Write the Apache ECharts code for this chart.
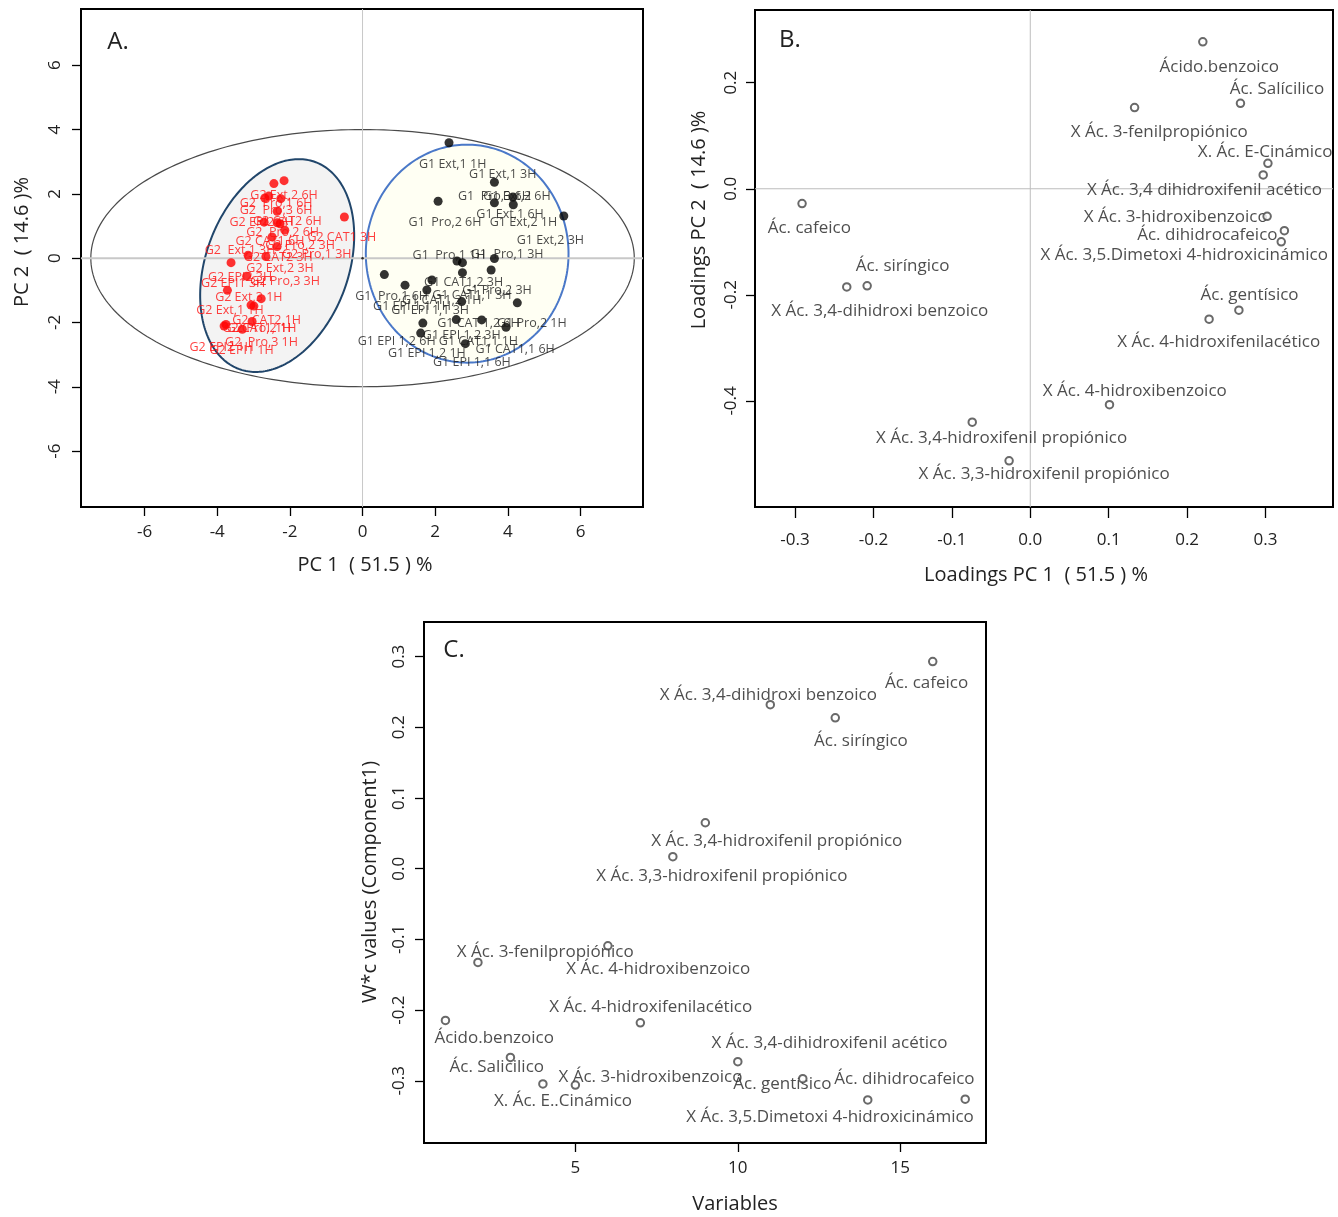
<!DOCTYPE html>
<html>
<head>
<meta charset="utf-8">
<script src="https://cdn.jsdelivr.net/npm/echarts@6/dist/echarts.min.js"></script>
<style>
  html, body { margin: 0; padding: 0; background: #fff; }
  #chart { width: 1338px; height: 1217px; }
</style>
</head>
<body>
<div id="chart"></div>
<script>
// ---------- A. PCA scores ----------
const g1Scores = [
  [2.38, 3.59], [3.63, 2.36], [2.08, 1.77], [3.63, 1.72], [4.14, 1.90], [4.15, 1.66],
  [5.54, 1.31], [2.60, -0.09], [2.75, -0.14], [3.63, -0.01], [2.75, -0.45], [3.54, -0.37],
  [0.60, -0.51], [1.17, -0.84], [1.91, -0.68], [1.77, -0.99], [2.73, -1.35], [4.26, -1.39],
  [1.66, -2.02], [2.58, -1.91], [3.28, -1.92], [3.95, -2.15], [1.60, -2.33], [2.83, -2.66]
];
const g2Scores = [
  [-2.44, 2.32], [-2.16, 2.41], [-2.69, 1.87], [-2.58, 1.93], [-2.25, 1.85], [-2.35, 1.46],
  [-2.71, 1.12], [-2.35, 1.10], [-2.27, 1.07], [-2.14, 0.87], [-2.49, 0.66], [-2.35, 0.36],
  [-3.15, 0.09], [-2.66, 0.05], [-0.50, 1.28], [-3.62, -0.14], [-3.19, -0.56], [-3.72, -1.00],
  [-2.79, -1.26], [-3.07, -1.46], [-2.99, -1.49], [-3.76, -2.06], [-3.81, -2.11], [-3.04, -1.97],
  [-3.31, -2.21]
];
const g1ScoreLabels = [
  [2.48, 2.91, 'G1 Ext,1 1H'], [3.86, 2.60, 'G1 Ext,1 3H'], [3.63, 1.93, 'G1  Pro,3 6H'],
  [4.25, 1.93, 'G1 Ext,2 6H'], [4.06, 1.36, 'G1 Ext,1 6H'], [2.27, 1.10, 'G1  Pro,2 6H'],
  [4.43, 1.10, 'G1 Ext,2 1H'], [5.17, 0.55, 'G1 Ext,2 3H'], [2.38, 0.09, 'G1  Pro,1 1H'],
  [3.98, 0.12, 'G1  Pro,1 3H'], [2.78, -0.76, 'G1 CAT1,2 3H'], [3.70, -1.00, 'G1 Pro,2 3H'],
  [0.80, -1.20, 'G1  Pro,1 6H'], [3.01, -1.15, 'G1 CAT1,1 3H'], [2.18, -1.30, 'G1 CAT1,2 1H'],
  [1.36, -1.49, 'G1 EPI 1,1 1H'], [1.86, -1.64, 'G1 EPI 1,1 3H'], [3.19, -2.03, 'G1 CAT 1,2 6H'],
  [4.66, -2.03, 'G1 Pro,2 1H'], [2.73, -2.39, 'G1 EPI 1,2 3H'], [0.94, -2.59, 'G1 EPI 1,2 6H'],
  [3.19, -2.59, 'G1 CAT1,1 1H'], [4.20, -2.83, 'G1 CAT1,1 6H'], [1.77, -2.97, 'G1 EPI 1,2 1H'],
  [3.01, -3.25, 'G1 EPI 1,1 6H']
];
const g2ScoreLabels = [
  [-2.16, 1.95, 'G2 Ext,2 6H'], [-2.38, 1.69, 'G2  Pro,1 6H'], [-2.38, 1.48, 'G2  Pro,3 6H'],
  [-2.78, 1.12, 'G2 EPI2 6H'], [-2.07, 1.15, 'G2 CAT2 6H'], [-2.20, 0.81, 'G2  Pro,2 6H'],
  [-0.57, 0.64, 'G2 CAT1 3H'], [-2.55, 0.53, 'G2 CAT1,6H'], [-1.72, 0.40, 'G2 Pro,2 3H'],
  [-3.37, 0.24, 'G2  Ext,1 3H'], [-2.32, 0.02, 'G2 CAT2 3H'], [-1.26, 0.12, 'G2 Pro,1 3H'],
  [-2.27, -0.32, 'G2 Ext,2 3H'], [-3.37, -0.59, 'G2 EPI2 3H'], [-2.13, -0.71, 'G2 Pro,3 3H'],
  [-3.56, -0.79, 'G2 EPI1 3H'], [-3.13, -1.21, 'G2 Ext,3 1H'], [-3.65, -1.62, 'G2 Ext,1 1H'],
  [-2.64, -1.95, 'G2 CAT2,1H'], [-2.91, -2.18, 'G2 CAT1,1H'], [-2.78, -2.18, 'G2 Pro,2 1H'],
  [-2.78, -2.62, 'G2  Pro,3 1H'], [-3.88, -2.78, 'G2 EPI2 1H'], [-3.33, -2.86, 'G2 EPI1 1H']
];
// confidence ellipses: [centre x, centre y, semi-axis x, semi-axis y, correlation]
const ellipseAll = [0, 0, 7.48, 4.0, 0];
const ellipseG2 = [-2.35, -0.23, 2.12, 3.31, 0.28];
const ellipseG1 = [2.88, 0.14, 2.79, 3.39, 0];
const scoreTicks = [-6, -4, -2, 0, 2, 4, 6];

// ---------- B. Loadings ----------
const loadingPoints = [
  [0.220, 0.277], [0.268, 0.161], [0.133, 0.153], [0.303, 0.048], [0.297, 0.026],
  [0.302, -0.052], [0.324, -0.079], [0.320, -0.100], [0.266, -0.229], [0.228, -0.246],
  [0.101, -0.407], [-0.074, -0.440], [-0.027, -0.513], [-0.291, -0.028], [-0.234, -0.185],
  [-0.208, -0.183]
];
const loadingLabels = [
  [0.241, 0.230, 'Ácido.benzoico'], [0.3145, 0.187, 'Ác. Salícilico'],
  [0.1645, 0.107, 'X Ác. 3-fenilpropiónico'], [0.2995, 0.069, 'X. Ác. E-Cinámico'],
  [0.2220, -0.003, 'X Ác. 3,4 dihidroxifenil acético'], [0.1855, -0.053, 'X Ác. 3-hidroxibenzoico'],
  [0.2258, -0.087, 'Ác. dihidrocafeico'], [0.1962, -0.126, 'X Ác. 3,5.Dimetoxi 4-hidroxicinámico'],
  [0.2796, -0.200, 'Ác. gentísico'], [0.2403, -0.290, 'X Ác. 4-hidroxifenilacético'],
  [0.1333, -0.381, 'X Ác. 4-hidroxibenzoico'], [-0.0366, -0.470, 'X Ác. 3,4-hidroxifenil propiónico'],
  [0.0177, -0.538, 'X Ác. 3,3-hidroxifenil propiónico'], [-0.2817, -0.074, 'Ác. cafeico'],
  [-0.1629, -0.145, 'Ác. siríngico'], [-0.1919, -0.230, 'X Ác. 3,4-dihidroxi benzoico']
];
const loadingTicksX = [-0.3, -0.2, -0.1, 0, 0.1, 0.2, 0.3];
const loadingTicksY = [-0.4, -0.2, 0, 0.2];

// ---------- C. W*c values ----------
const variableIndex = [1, 2, 3, 4, 5, 6, 7, 8, 9, 10, 11, 12, 13, 14, 16, 17];
const wcValues = [-0.2146, -0.1326, -0.267, -0.3045, -0.306, -0.109, -0.218, 0.017, 0.065,
  -0.273, 0.232, -0.297, 0.2135, -0.327, 0.293, -0.326];
const wcLabels = [
  [15.81, 0.263, 'Ác. cafeico'], [10.94, 0.245, 'X Ác. 3,4-dihidroxi benzoico'],
  [13.79, 0.180, 'Ác. siríngico'], [11.20, 0.0394, 'X Ác. 3,4-hidroxifenil propiónico'],
  [9.51, -0.011, 'X Ác. 3,3-hidroxifenil propiónico'], [4.07, -0.1176, 'X Ác. 3-fenilpropiónico'],
  [7.55, -0.1414, 'X Ác. 4-hidroxibenzoico'], [7.32, -0.196, 'X Ác. 4-hidroxifenilacético'],
  [2.50, -0.2396, 'Ácido.benzoico'], [12.82, -0.2463, 'X Ác. 3,4-dihidroxifenil acético'],
  [2.58, -0.281, 'Ác. Salicilico'], [7.31, -0.2945, 'X Ác. 3-hidroxibenzoico'],
  [11.37, -0.305, 'Ác. gentísico'], [15.13, -0.297, 'Ác. dihidrocafeico'],
  [4.62, -0.3295, 'X. Ác. E..Cinámico'], [12.84, -0.3516, 'X Ác. 3,5.Dimetoxi 4-hidroxicinámico']
];
const wcTicksX = [5, 10, 15];
const wcTicksY = [-0.3, -0.2, -0.1, 0, 0.1, 0.2, 0.3];

// ---------- drawing ----------
const FONT = "'Open Sans', 'Noto Sans', sans-serif";
const INK = '#222';
const rangeA = { x: [-7.75, 7.72], y: [-7.74, 7.75] };
const rangeB = { x: [-0.351, 0.386], y: [-0.600, 0.337] };
const rangeC = { x: [0.34, 17.64], y: [-0.388, 0.349] };

function valueAxis(gi, range, ticks, fmt, margin, tickLen, isY) {
  return {
    type: 'value', gridIndex: gi, min: range[0], max: range[1],
    axisLine: { show: false, onZero: false },
    splitLine: { show: false },
    axisTick: { show: true, length: tickLen, customValues: ticks, lineStyle: { color: '#000', width: 1.3 } },
    axisLabel: {
      customValues: ticks, formatter: fmt, margin: margin, rotate: isY ? 90 : 0,
      fontSize: 17, fontFamily: FONT, color: INK
    }
  };
}
const fmtInt = v => String(Math.round(v));
const fmtOne = v => (Math.abs(v) < 1e-9 ? 0 : v).toFixed(1);

function ellipseSeries(gi, e, fill, stroke, lw, z) {
  return {
    type: 'custom', xAxisIndex: gi, yAxisIndex: gi, silent: true, z: z,
    data: [[e[0], e[1]]],
    renderItem: function (params, api) {
      const pts = [];
      const n = 240;
      for (let i = 0; i < n; i++) {
        const t = i / n * Math.PI * 2;
        const x = e[0] + e[2] * Math.cos(t);
        const y = e[1] + e[4] * e[3] * Math.cos(t) + e[3] * Math.sqrt(1 - e[4] * e[4]) * Math.sin(t);
        pts.push(api.coord([x, y]));
      }
      return { type: 'polygon', shape: { points: pts }, style: { fill: fill, stroke: stroke, lineWidth: lw } };
    }
  };
}

function crossLines(gi, range, hStyle, vStyle, z) {
  return {
    type: 'custom', xAxisIndex: gi, yAxisIndex: gi, silent: true, z: z,
    data: [[0, 0]],
    renderItem: function (params, api) {
      const h0 = api.coord([range.x[0], 0]), h1 = api.coord([range.x[1], 0]);
      const v0 = api.coord([0, range.y[0]]), v1 = api.coord([0, range.y[1]]);
      return {
        type: 'group', children: [
          { type: 'line', shape: { x1: h0[0], y1: h0[1], x2: h1[0], y2: h1[1] }, style: hStyle },
          { type: 'line', shape: { x1: v0[0], y1: v0[1], x2: v1[0], y2: v1[1] }, style: vStyle }
        ]
      };
    }
  };
}

function labelSeries(gi, rows, color, size, z) {
  return {
    type: 'scatter', xAxisIndex: gi, yAxisIndex: gi, silent: true, z: z,
    symbolSize: 1, itemStyle: { color: 'rgba(0,0,0,0)' },
    data: rows.map(r => ({ value: [r[0], r[1]], name: r[2] })),
    label: { show: true, position: 'inside', formatter: '{b}', color: color, fontSize: size, fontFamily: FONT },
    labelLayout: { hideOverlap: false }
  };
}

function pointSeries(gi, data, opts, z) {
  return Object.assign({
    type: 'scatter', xAxisIndex: gi, yAxisIndex: gi, silent: true, z: z, data: data
  }, opts);
}

function text(x, y, str, size, rot) {
  return {
    type: 'text', x: x, y: y, rotation: rot || 0, silent: true,
    style: { text: str, align: 'center', verticalAlign: 'middle', fontSize: size, fontFamily: FONT, fill: INK }
  };
}

const wcPoints = variableIndex.map((v, i) => [v, wcValues[i]]);
const openCircle = { symbol: 'emptyCircle', symbolSize: 7.5, itemStyle: { color: '#444', borderWidth: 1.1 } };
const zeroThin = { stroke: '#bdbdbd', lineWidth: 1 };

const option = {
  animation: false,
  backgroundColor: '#fff',
  grid: [
    { left: 81, top: 9, width: 562, height: 498, show: true, borderColor: '#000', borderWidth: 2, backgroundColor: 'transparent' },
    { left: 755, top: 10, width: 578, height: 497, show: true, borderColor: '#000', borderWidth: 2, backgroundColor: 'transparent' },
    { left: 424, top: 622, width: 562, height: 521, show: true, borderColor: '#000', borderWidth: 2, backgroundColor: 'transparent' }
  ],
  xAxis: [
    valueAxis(0, rangeA.x, scoreTicks, fmtInt, 17, 9, false),
    valueAxis(1, rangeB.x, loadingTicksX, fmtOne, 25, 11, false),
    valueAxis(2, rangeC.x, wcTicksX, fmtInt, 17, 9, false)
  ],
  yAxis: [
    valueAxis(0, rangeA.y, scoreTicks, fmtInt, 17, 9, true),
    valueAxis(1, rangeB.y, loadingTicksY, fmtOne, 15, 9, true),
    valueAxis(2, rangeC.y, wcTicksY, fmtOne, 16, 9, true)
  ],
  series: [
    ellipseSeries(0, ellipseAll, '#ffffff', '#4a4a4a', 1.2, 1),
    ellipseSeries(0, ellipseG2, '#f3f3f3', '#21466b', 2, 2),
    ellipseSeries(0, ellipseG1, '#fffff3', '#4a78c8', 2, 2),
    crossLines(0, rangeA, { stroke: '#c8c8c8', lineWidth: 2 }, { stroke: '#c8c8c8', lineWidth: 1 }, 3),
    pointSeries(0, g2Scores, { symbolSize: 9, itemStyle: { color: '#ff0000' } }, 4),
    pointSeries(0, g1Scores, { symbolSize: 9, itemStyle: { color: '#000' } }, 4),
    pointSeries(0, [[0, 0]], { symbolSize: 2.5, itemStyle: { color: '#000' } }, 4),
    labelSeries(0, g2ScoreLabels, '#ff1010', 12.5, 5),
    labelSeries(0, g1ScoreLabels, '#1a1a1a', 12.5, 5),

    crossLines(1, rangeB, zeroThin, zeroThin, 3),
    labelSeries(1, loadingLabels, INK, 17, 4),
    pointSeries(1, loadingPoints, openCircle, 5),

    labelSeries(2, wcLabels, INK, 17, 4),
    pointSeries(2, wcPoints, openCircle, 5)
  ],
  graphic: [
    text(118, 42, 'A.', 24),
    text(790, 40, 'B.', 24),
    text(454, 650, 'C.', 24),
    text(365, 565, 'PC 1  ( 51.5 ) %', 20),
    text(22, 242, 'PC 2  ( 14.6 )%', 20, Math.PI / 2),
    text(1036, 575, 'Loadings PC 1  ( 51.5 ) %', 20),
    text(699, 220, 'Loadings PC 2  ( 14.6 )%', 20, Math.PI / 2),
    text(735, 1204, 'Variables', 20),
    text(370, 882, 'W*c values (Component1)', 20, Math.PI / 2)
  ]
};

const chart = echarts.init(document.getElementById('chart'));
chart.setOption(option);
</script>
</body>
</html>
